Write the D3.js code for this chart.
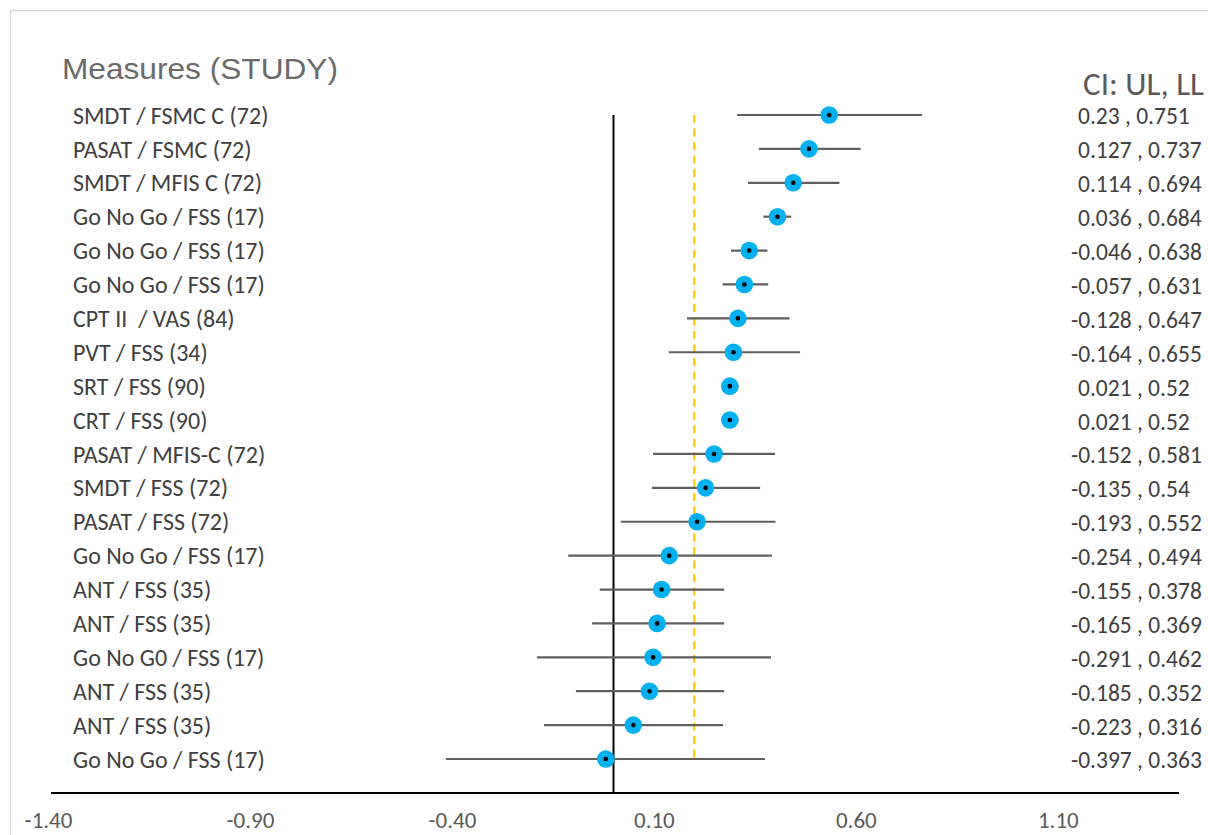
<!DOCTYPE html>
<html>
<head>
<meta charset="utf-8">
<script src="https://cdn.jsdelivr.net/npm/d3@7"></script>
<style>
  html, body { margin: 0; padding: 0; background: #fff; }
  svg { display: block; }
  text { white-space: pre; }
</style>
</head>
<body>
<svg id="chart" width="1208" height="835"></svg>
<script>
// ---- data ----
const labels = [
  "SMDT / FSMC C (72)", "PASAT / FSMC (72)", "SMDT / MFIS C (72)", "Go No Go / FSS (17)",
  "Go No Go / FSS (17)", "Go No Go / FSS (17)", "CPT II  / VAS (84)", "PVT / FSS (34)",
  "SRT / FSS (90)", "CRT / FSS (90)", "PASAT / MFIS-C (72)", "SMDT / FSS (72)",
  "PASAT / FSS (72)", "Go No Go / FSS (17)", "ANT / FSS (35)", "ANT / FSS (35)",
  "Go No G0 / FSS (17)", "ANT / FSS (35)", "ANT / FSS (35)", "Go No Go / FSS (17)"
];
const estimates = [0.534, 0.484, 0.445, 0.406, 0.336, 0.324, 0.308, 0.297, 0.288, 0.288,
                   0.249, 0.228, 0.207, 0.138, 0.119, 0.108, 0.098, 0.089, 0.049, -0.019];
const lower = [0.306, 0.360, 0.333, 0.371, 0.291, 0.270, 0.182, 0.137, 0.269, 0.269,
               0.098, 0.095, 0.018, -0.112, -0.034, -0.053, -0.189, -0.093, -0.172, -0.415];
const upper = [0.764, 0.612, 0.559, 0.440, 0.381, 0.383, 0.436, 0.462, 0.310, 0.310,
               0.400, 0.363, 0.401, 0.392, 0.274, 0.274, 0.390, 0.274, 0.271, 0.375];
const ciText = [
  "0.23 , 0.751", "0.127 , 0.737", "0.114 , 0.694", "0.036 , 0.684", "-0.046 , 0.638",
  "-0.057 , 0.631", "-0.128 , 0.647", "-0.164 , 0.655", "0.021 , 0.52", "0.021 , 0.52",
  "-0.152 , 0.581", "-0.135 , 0.54", "-0.193 , 0.552", "-0.254 , 0.494", "-0.155 , 0.378",
  "-0.165 , 0.369", "-0.291 , 0.462", "-0.185 , 0.352", "-0.223 , 0.316", "-0.397 , 0.363"
];
const tickValues = [-1.40, -0.90, -0.40, 0.10, 0.60, 1.10];
const xDomain = [-1.4, 1.4];
const zeroRef = 0;
const dashRef = 0.2;
const titleText = "Measures (STUDY)";
const ciTitle = "CI: UL, LL";

// ---- layout ----
const svg = d3.select("#chart");
const calibri = "Carlito, Calibri, Lato, 'Open Sans', sans-serif";

svg.append("rect").attr("x", 10.5).attr("y", 10.5).attr("width", 1300).attr("height", 900)
  .attr("fill", "#fff").attr("stroke", "#d9d9d9").attr("stroke-width", 1.5);

const x = d3.scaleLinear().domain(xDomain).range([48, 1179]);
const y = d3.scalePoint().domain(d3.range(labels.length)).range([115, 759]);
const axisY = 793;

// title
svg.append("text").attr("x", 62).attr("y", 79)
  .attr("font-family", "'Liberation Sans', Arial, sans-serif")
  .attr("font-size", 29).attr("fill", "#6b6b6b")
  .attr("textLength", 276).attr("lengthAdjust", "spacingAndGlyphs")
  .text(titleText);

// CI title
svg.append("text").attr("x", 1204).attr("y", 95).attr("text-anchor", "end")
  .attr("font-family", calibri).attr("font-size", 33).attr("fill", "#595959")
  .text(ciTitle);

// reference lines
svg.append("line").attr("x1", x(zeroRef)).attr("x2", x(zeroRef))
  .attr("y1", y(0)).attr("y2", axisY)
  .attr("stroke", "#000").attr("stroke-width", 2);
svg.append("line").attr("x1", x(dashRef)).attr("x2", x(dashRef))
  .attr("y1", y(0)).attr("y2", y(labels.length - 1))
  .attr("stroke", "#ffc000").attr("stroke-width", 2).attr("stroke-dasharray", "8,5.5");

// axis
const axis = d3.axisBottom(x).tickValues(tickValues).tickSize(0).tickSizeOuter(0)
  .tickPadding(19).tickFormat(d => d.toFixed(2));
const gAxis = svg.append("g").attr("transform", `translate(0,${axisY})`).call(axis);
gAxis.select(".domain").attr("stroke", "#000").attr("stroke-width", 2.2)
  .attr("d", `M${x(xDomain[0]) + 3},0H${x(xDomain[1])}`);
gAxis.selectAll(".tick text").attr("font-family", calibri).attr("font-size", 23)
  .attr("fill", "#595959");

// rows
const defs = svg.append("defs");
defs.append("filter").attr("id", "soft").attr("x", "-50%").attr("y", "-50%")
  .attr("width", "200%").attr("height", "200%")
  .append("feGaussianBlur").attr("stdDeviation", 0.7);

const rows = svg.append("g").selectAll("g").data(labels).join("g");

rows.append("text").attr("x", 73).attr("y", (d, i) => y(i)).attr("dy", "0.36em")
  .attr("font-family", calibri).attr("font-size", 24).attr("fill", "#404040")
  .text(d => d);

rows.append("line")
  .attr("x1", (d, i) => x(lower[i])).attr("x2", (d, i) => x(upper[i]))
  .attr("y1", (d, i) => y(i)).attr("y2", (d, i) => y(i))
  .attr("stroke", "#5f5f5f").attr("stroke-width", 2.2);

rows.append("circle").attr("cx", (d, i) => x(estimates[i])).attr("cy", (d, i) => y(i))
  .attr("r", 8.8).attr("fill", "#00b0f0").attr("filter", "url(#soft)");
rows.append("circle").attr("cx", (d, i) => x(estimates[i])).attr("cy", (d, i) => y(i))
  .attr("r", 2.3).attr("fill", "#000");

rows.append("text")
  .attr("x", (d, i) => ciText[i].startsWith("-") ? 1071 : 1078)
  .attr("y", (d, i) => y(i) + 1).attr("dy", "0.36em")
  .attr("font-family", calibri).attr("font-size", 23.5).attr("fill", "#404040")
  .text((d, i) => ciText[i]);
</script>
</body>
</html>
